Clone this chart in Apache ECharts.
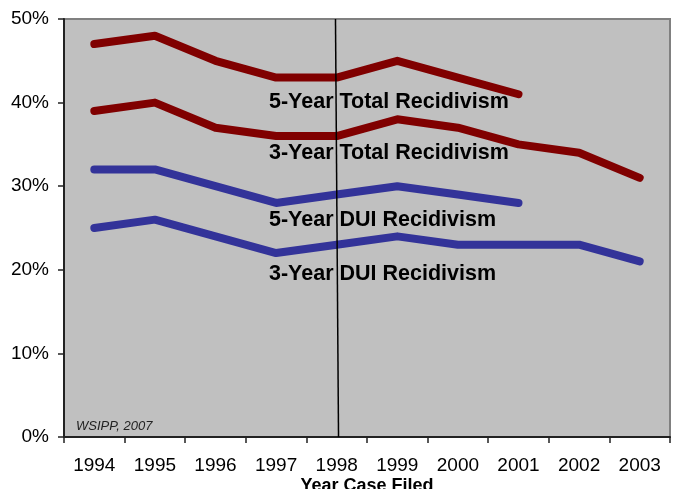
<!DOCTYPE html>
<html><head><meta charset="utf-8">
<script src="https://cdn.jsdelivr.net/npm/echarts@6/dist/echarts.min.js"></script>
<style>html,body{margin:0;padding:0;background:#fff}#c{width:676px;height:489px}</style>
</head><body><div id="c"></div>
<script>
var years = ['1994','1995','1996','1997','1998','1999','2000','2001','2002','2003'];
var total5 = [47, 48, 45, 43, 43, 45, 43, 41, null, null];
var total3 = [39, 40, 37, 36, 36, 38, 37, 35, 34, 31];
var dui5   = [32, 32, 30, 28, 29, 30, 29, 28, null, null];
var dui3   = [25, 26, 24, 22, 23, 24, 23, 23, 23, 21];
var yTicks = [0, 10, 20, 30, 40, 50];
var divider = [[4.48, 50], [4.53, 0]];
var labels = ['5-Year Total Recidivism','3-Year Total Recidivism','5-Year DUI Recidivism','3-Year DUI Recidivism'];
var FONT = '"Liberation Sans", Arial, sans-serif';
var RED = '#800000', BLUE = '#333399';

var chart = echarts.init(document.getElementById('c'), null, {renderer:'canvas'});
function ser(name, data, color){
  return {name:name, type:'line', data:data, symbol:'none', smooth:false, connectNulls:false,
    lineStyle:{color:color, width:8, cap:'round', join:'round'}, itemStyle:{color:color}, z:3};
}
chart.setOption({
  animation:false,
  backgroundColor:'#ffffff',
  grid:{left:64, right:6, top:19, bottom:52, containLabel:false, outerBoundsMode:'none',
    show:true, backgroundColor:'#C0C0C0', borderColor:'#808080', borderWidth:2},
  xAxis:[{
    type:'category', data:years, boundaryGap:true,
    axisLine:{lineStyle:{color:'#222', width:2}},
    axisTick:{show:true, length:6, lineStyle:{color:'#222', width:1.5}},
    axisLabel:{color:'#000', fontFamily:FONT, fontSize:19, margin:19},
    name:'Year Case Filed', nameLocation:'middle', nameGap:40, nameMoveOverlap:false,
    nameTextStyle:{color:'#000', fontFamily:FONT, fontSize:18, fontWeight:'bold'}
  },{
    type:'value', min:0, max:10, show:false
  }],
  yAxis:{
    type:'value', min:yTicks[0], max:yTicks[yTicks.length-1], interval:10,
    axisLine:{show:true, lineStyle:{color:'#222', width:2}},
    axisTick:{show:true, length:6, lineStyle:{color:'#222', width:1.5}},
    axisLabel:{color:'#000', fontFamily:FONT, fontSize:19, margin:15, formatter:'{value}%'},
    splitLine:{show:false}
  },
  series:[
    ser('5-Year Total', total5, RED),
    ser('3-Year Total', total3, RED),
    ser('5-Year DUI', dui5, BLUE),
    ser('3-Year DUI', dui3, BLUE),
    {type:'line', xAxisIndex:1, data:divider, symbol:'none', lineStyle:{color:'#000', width:1.5}, z:4, silent:true}
  ],
  graphic:[
    {type:'text', x:269, y:102, z:10, style:{text:labels[0], font:'bold 21.5px '+FONT, fill:'#000', verticalAlign:'middle'}},
    {type:'text', x:269, y:153, z:10, style:{text:labels[1], font:'bold 21.5px '+FONT, fill:'#000', verticalAlign:'middle'}},
    {type:'text', x:269, y:220, z:10, style:{text:labels[2], font:'bold 21.5px '+FONT, fill:'#000', verticalAlign:'middle'}},
    {type:'text', x:269, y:274, z:10, style:{text:labels[3], font:'bold 21.5px '+FONT, fill:'#000', verticalAlign:'middle'}},
    {type:'text', x:76, y:426, z:10, style:{text:'WSIPP, 2007', font:'italic 13px '+FONT, fill:'#222', verticalAlign:'middle'}}
  ]
});
</script></body></html>
